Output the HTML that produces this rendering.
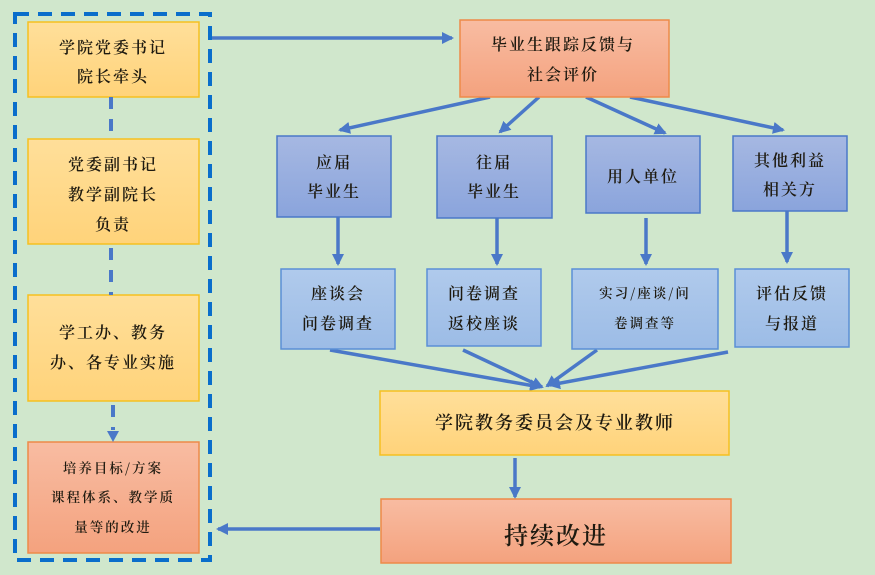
<!DOCTYPE html>
<html><head><meta charset="utf-8"><style>
body{margin:0;background:#d0e7cc;}
svg{display:block}
text{font-family:"Noto Serif CJK SC","Liberation Serif",serif;font-weight:600;fill:#1e1a10;text-anchor:middle;letter-spacing:2px}
</style></head><body>
<svg width="875" height="575" viewBox="0 0 875 575" xmlns="http://www.w3.org/2000/svg">
<defs>
<linearGradient id="y" x1="0" y1="0" x2="0" y2="1"><stop offset="0" stop-color="#ffdf9a"/><stop offset="1" stop-color="#ffd37a"/></linearGradient>
<linearGradient id="o" x1="0" y1="0" x2="0" y2="1"><stop offset="0" stop-color="#f8bca2"/><stop offset="1" stop-color="#f4a27e"/></linearGradient>
<linearGradient id="b" x1="0" y1="0" x2="0" y2="1"><stop offset="0" stop-color="#a6b8e2"/><stop offset="1" stop-color="#8aa4dc"/></linearGradient>
<linearGradient id="lb" x1="0" y1="0" x2="0" y2="1"><stop offset="0" stop-color="#b0caec"/><stop offset="1" stop-color="#9cbce6"/></linearGradient>
<marker id="a2" markerWidth="12" markerHeight="12" refX="10" refY="6" orient="auto" markerUnits="userSpaceOnUse"><path d="M0,0 L12,6 L0,12 z" fill="#4a78c8"/></marker>
</defs>
<rect x="15" y="14" width="195" height="546" fill="none" stroke="#0a6ecb" stroke-width="4" stroke-dasharray="14,9"/>
<rect x="28" y="22" width="171" height="75" fill="url(#y)" stroke="#f5c020" stroke-width="1.5"/>
<text x="113" y="53" font-size="16">学院党委书记</text><text x="113" y="82" font-size="16">院长牵头</text>
<rect x="28" y="139" width="171" height="105" fill="url(#y)" stroke="#f5c020" stroke-width="1.5"/>
<text x="113" y="170" font-size="16">党委副书记</text><text x="113" y="200" font-size="16">教学副院长</text><text x="113" y="230" font-size="16">负责</text>
<rect x="28" y="295" width="171" height="106" fill="url(#y)" stroke="#f5c020" stroke-width="1.5"/>
<text x="113" y="338" font-size="16">学工办、教务</text><text x="113" y="368" font-size="16">办、各专业实施</text>
<rect x="28" y="442" width="171" height="111" fill="url(#o)" stroke="#ee8a48" stroke-width="1.5"/>
<text x="113" y="473" font-size="13.5">培养目标/方案</text><text x="113" y="502" font-size="13.5">课程体系、教学质</text><text x="113" y="532" font-size="13.5">量等的改进</text>
<g stroke="#4a78c8" stroke-width="4" stroke-dasharray="12,10">
<line x1="111" y1="97" x2="111" y2="139"/><line x1="111" y1="248" x2="111" y2="295"/><line x1="113" y1="405" x2="113" y2="430"/>
</g>
<path d="M107,431 L119,431 L113,442 z" fill="#4a78c8"/>
<g stroke="#4a78c8" stroke-width="3.5" fill="none">
<line x1="212" y1="38" x2="452" y2="38" marker-end="url(#a2)"/>
<line x1="490" y1="97" x2="340" y2="130" marker-end="url(#a2)"/>
<line x1="539" y1="97" x2="500" y2="132" marker-end="url(#a2)"/>
<line x1="586" y1="97" x2="665" y2="133" marker-end="url(#a2)"/>
<line x1="630" y1="97" x2="783" y2="130" marker-end="url(#a2)"/>
<line x1="338" y1="217" x2="338" y2="264" marker-end="url(#a2)"/>
<line x1="497" y1="218" x2="497" y2="264" marker-end="url(#a2)"/>
<line x1="646" y1="218" x2="646" y2="264" marker-end="url(#a2)"/>
<line x1="787" y1="211" x2="787" y2="262" marker-end="url(#a2)"/>
<line x1="330" y1="350" x2="540" y2="387" marker-end="url(#a2)"/>
<line x1="463" y1="350" x2="542" y2="387" marker-end="url(#a2)"/>
<line x1="597" y1="350" x2="547" y2="386" marker-end="url(#a2)"/>
<line x1="728" y1="352" x2="550" y2="385" marker-end="url(#a2)"/>
<line x1="515" y1="458" x2="515" y2="497" marker-end="url(#a2)"/>
<line x1="380" y1="529" x2="218" y2="529" marker-end="url(#a2)"/>
</g>
<rect x="460" y="20" width="209" height="77" fill="url(#o)" stroke="#ee8a48" stroke-width="1.5"/>
<text x="563" y="50" font-size="16">毕业生跟踪反馈与</text><text x="563" y="80" font-size="16">社会评价</text>
<rect x="277" y="136" width="114" height="81" fill="url(#b)" stroke="#4a78c8" stroke-width="1.5"/>
<text x="334" y="168" font-size="16">应届</text><text x="334" y="197" font-size="16">毕业生</text>
<rect x="437" y="136" width="115" height="82" fill="url(#b)" stroke="#4a78c8" stroke-width="1.5"/>
<text x="494" y="168" font-size="16">往届</text><text x="494" y="197" font-size="16">毕业生</text>
<rect x="586" y="136" width="114" height="77" fill="url(#b)" stroke="#4a78c8" stroke-width="1.5"/>
<text x="643" y="182" font-size="16">用人单位</text>
<rect x="733" y="136" width="114" height="75" fill="url(#b)" stroke="#4a78c8" stroke-width="1.5"/>
<text x="790" y="166" font-size="16">其他利益</text><text x="790" y="195" font-size="16">相关方</text>
<rect x="281" y="269" width="114" height="80" fill="url(#lb)" stroke="#5b8fd6" stroke-width="1.5"/>
<text x="338" y="299" font-size="16">座谈会</text><text x="338" y="329" font-size="16">问卷调查</text>
<rect x="427" y="269" width="114" height="77" fill="url(#lb)" stroke="#5b8fd6" stroke-width="1.5"/>
<text x="484" y="299" font-size="16">问卷调查</text><text x="484" y="329" font-size="16">返校座谈</text>
<rect x="572" y="269" width="146" height="80" fill="url(#lb)" stroke="#5b8fd6" stroke-width="1.5"/>
<text x="645" y="298" font-size="13.5">实习/座谈/问</text><text x="645" y="328" font-size="13.5">卷调查等</text>
<rect x="735" y="269" width="114" height="78" fill="url(#lb)" stroke="#5b8fd6" stroke-width="1.5"/>
<text x="792" y="299" font-size="16">评估反馈</text><text x="792" y="329" font-size="16">与报道</text>
<rect x="380" y="391" width="349" height="64" fill="url(#y)" stroke="#f5c020" stroke-width="1.5"/>
<text x="555" y="429" font-size="18">学院教务委员会及专业教师</text>
<rect x="381" y="499" width="350" height="64" fill="url(#o)" stroke="#ee8a48" stroke-width="1.5"/>
<text x="556" y="544" font-size="24">持续改进</text>
</svg>
</body></html>
